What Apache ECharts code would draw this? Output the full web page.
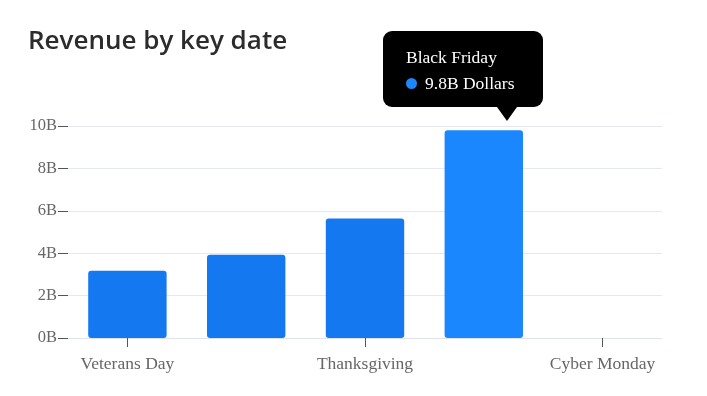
<!DOCTYPE html>
<html>
<head>
<meta charset="utf-8">
<script src="https://cdn.jsdelivr.net/npm/echarts@6/dist/echarts.min.js"></script>
<style>
html,body{margin:0;padding:0;background:#fff;}
#main{width:707px;height:396px;}
</style>
</head>
<body>
<div id="main"></div>
<script>
var categories = ['Veterans Day', 'Veterans Day +1', 'Thanksgiving', 'Black Friday', 'Cyber Monday'];
var revenueBillions = [3.17, 3.93, 5.64, 9.8, null];
var yTicks = [0, 2, 4, 6, 8, 10];
var highlightIndex = 3;

var chart = echarts.init(document.getElementById('main'), null, {renderer: 'canvas'});
var serif = '"Liberation Serif", "DejaVu Serif", serif';
var option = {
  animation: false,
  title: {
    text: 'Revenue by key date',
    left: 23, top: 24,
    textStyle: {fontFamily: '"Open Sans", sans-serif', fontSize: 26, fontWeight: 600, color: '#2c2c2c'}
  },
  grid: {left: 68, right: 45, top: 126, bottom: 58},
  tooltip: {
    trigger: 'item',
    alwaysShowContent: true,
    backgroundColor: '#000',
    borderWidth: 0,
    padding: [13, 20, 11, 23],
    extraCssText: 'border-radius:9px;box-shadow:none;width:117px;',
    textStyle: {fontFamily: serif, fontSize: 17, color: '#fff'},
    position: function (point, params, dom, rect, size) {
      var cx = rect.x + rect.width / 2;
      return [cx - 101, rect.y - size.contentSize[1] - 23];
    },
    formatter: function (p) {
      return '<div style="line-height:26px;font-family:' + serif.replace(/"/g, "'") + ';font-size:17.5px;color:#fff;white-space:nowrap">' +
        p.name + '<br/>' +
        '<span style="display:inline-block;width:11px;height:11px;border-radius:50%;background:#1a87ff;margin-right:8px;vertical-align:0px"></span>' +
        p.value + 'B Dollars</div>' +
        '<div style="position:absolute;left:114px;bottom:-14px;width:0;height:0;border-left:10px solid transparent;border-right:10px solid transparent;border-top:14px solid #000"></div>';
    }
  },
  xAxis: {
    type: 'category',
    data: categories,
    axisLine: {lineStyle: {color: '#dfe3ee', width: 1}},
    axisTick: {show: true, alignWithLabel: true, interval: 1, length: 9, lineStyle: {color: '#555'}},
    axisLabel: {interval: 1, margin: 17, fontFamily: serif, fontSize: 17.5, color: '#666'}
  },
  yAxis: {
    type: 'value',
    min: yTicks[0], max: yTicks[yTicks.length - 1], interval: yTicks[1] - yTicks[0],
    axisLine: {show: false},
    axisTick: {show: true, length: 10, lineStyle: {color: '#555'}},
    axisLabel: {margin: 11, fontFamily: serif, fontSize: 16.5, color: '#666', formatter: function (v) { return v + 'B'; }},
    splitLine: {lineStyle: {color: '#e4e8f2', width: 1}}
  },
  series: [{
    type: 'bar',
    barWidth: '66%',
    data: revenueBillions.map(function (v, i) {
      return {value: v, itemStyle: {color: i === highlightIndex ? '#1a87ff' : '#1479f0'}};
    }),
    itemStyle: {borderRadius: 3},
    emphasis: {disabled: true}
  }]
};
chart.setOption(option);
chart.dispatchAction({type: 'showTip', seriesIndex: 0, dataIndex: highlightIndex});
</script>
</body>
</html>
